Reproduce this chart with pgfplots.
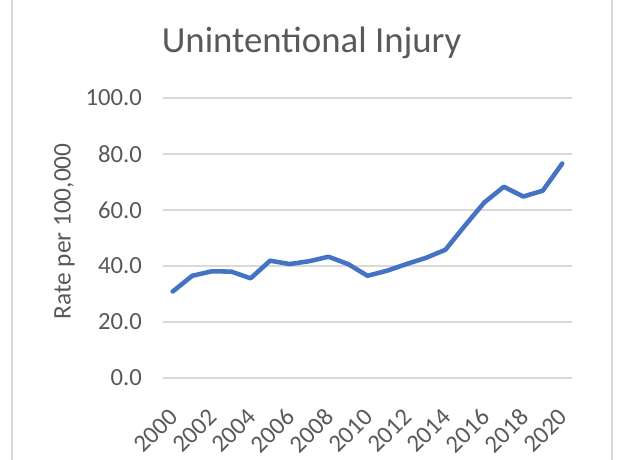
\documentclass[border=0pt]{standalone}
\usepackage{pgfplots}
\pgfplotsset{compat=1.18}
\usepackage{fontspec}
\setmainfont{Carlito}
\definecolor{lineblue}{HTML}{4472C4}
\definecolor{gridgray}{HTML}{D9D9D9}
\definecolor{txtgray}{HTML}{595959}
\begin{document}
\begin{tikzpicture}[x=0.75pt,y=0.75pt]
\useasboundingbox (0,0) rectangle (619,460);
\draw[gridgray, line width=1.2pt] (12,0) -- (12,460);
\draw[gridgray, line width=1.2pt] (612,0) -- (612,460);
\node[txtgray, font=\fontsize{27.6}{32}\selectfont, anchor=base, inner sep=0pt] at (311.7,407.3) {Unintentional Injury};
\node[txtgray, font=\fontsize{19}{22}\selectfont, rotate=90, anchor=base, inner sep=0pt] at (70.7,228.5) {Rate per 100,000};
\begin{axis}[
  at={(122.25pt,61.5pt)}, anchor=south west,
  scale only axis, width=306.75pt, height=210pt,
  xmin=1999.5, xmax=2020.5, ymin=0, ymax=100,
  axis line style={draw=none},
  tick style={draw=none},
  ymajorgrids, grid style={gridgray, line width=1.1pt},
  ytick={0,20,...,100},
  xtick={2000,2002,...,2020},
  /pgf/number format/assume math mode=true,
  yticklabel={\pgfmathprintnumber[fixed,fixed zerofill,precision=1]{\tick}},
  xticklabel={\pgfmathprintnumber[1000 sep={}]{\tick}},
  yticklabel style={txtgray, font=\fontsize{18.5}{22}\selectfont, xshift=-12.25pt},
  xticklabel style={txtgray, font=\fontsize{18.5}{22}\selectfont, rotate=45, anchor=east, xshift=-14.5pt, yshift=-19pt},
  clip=false,
]
\addplot[lineblue, line width=3.4pt, line join=round, line cap=round] coordinates {
(2000,30.9) (2001,36.5) (2002,38.1) (2003,38.0) (2004,35.6) (2005,41.9)
(2006,40.7) (2007,41.7) (2008,43.3) (2009,40.7) (2010,36.5) (2011,38.3)
(2012,40.7) (2013,42.9) (2014,45.8) (2015,54.4) (2016,62.7) (2017,68.3)
(2018,64.8) (2019,66.9) (2020,76.6)
};
\end{axis}
\end{tikzpicture}
\end{document}
